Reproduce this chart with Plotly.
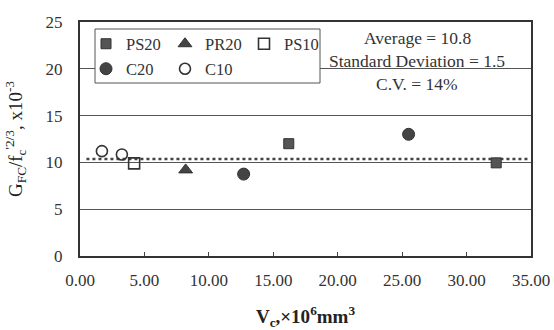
import plotly.graph_objects as go

# ---- data ----
ps20_x = [16.2, 32.3]
ps20_y = [12.0, 9.95]
pr20_x = [8.2]
pr20_y = [9.2]
ps10_x = [4.2]
ps10_y = [9.9]
c20_x = [12.7, 25.5]
c20_y = [8.75, 13.0]
c10_x = [1.7, 3.25]
c10_y = [11.2, 10.85]
avg_x = [0.5, 34.8]
avg_y = [10.35, 10.35]

x_ticks = [0, 5, 10, 15, 20, 25, 30, 35]
x_ticktext = ["0.00", "5.00", "10.00", "15.00", "20.00", "25.00", "30.00", "35.00"]
y_ticks = [0, 5, 10, 15, 20, 25]

stats_lines = ["Average = 10.8", "Standard Deviation = 1.5", "C.V. = 14%"]

FONT = "Liberation Serif"
W, H = 554, 330
ML, MR, MT, MB = 80, 23, 22, 74
PW, PH = W - ML - MR, H - MT - MB

def px(x):
    return (x - ML) / PW

def py(y):
    return 1 - (y - MT) / PH

fig = go.Figure()

# average dotted line
fig.add_trace(go.Scatter(x=avg_x, y=avg_y, mode="lines",
                         line=dict(color="#444", width=2.5, dash="dot"),
                         showlegend=False, hoverinfo="skip"))

fig.add_trace(go.Scatter(x=ps20_x, y=ps20_y, mode="markers", name="PS20", legend="legend",
                         marker=dict(symbol="square", size=10, color="#555",
                                     line=dict(color="#333", width=1))))
fig.add_trace(go.Scatter(x=pr20_x, y=pr20_y, mode="markers", name="PR20", legend="legend",
                         marker=dict(symbol="triangle-up", size=12, color="#444",
                                     line=dict(color="#333", width=1))))
fig.add_trace(go.Scatter(x=ps10_x, y=ps10_y, mode="markers", name="PS10", legend="legend",
                         marker=dict(symbol="square-open", size=11, color="#333",
                                     line=dict(width=1.6))))
fig.add_trace(go.Scatter(x=c20_x, y=c20_y, mode="markers", name="C20", legend="legend2",
                         marker=dict(symbol="circle", size=12, color="#444",
                                     line=dict(color="#333", width=1))))
fig.add_trace(go.Scatter(x=c10_x, y=c10_y, mode="markers", name="C10", legend="legend2",
                         marker=dict(symbol="circle-open", size=11, color="#333",
                                     line=dict(width=1.6))))

# legend box
fig.add_shape(type="rect", xref="paper", yref="paper",
              x0=px(95), x1=px(320), y0=py(83), y1=py(29),
              line=dict(color="#555", width=1), fillcolor="white", layer="above")

for i, (t, yy) in enumerate(zip(stats_lines, [38, 61, 84.5])):
    fig.add_annotation(text=t, xref="paper", yref="paper", x=px(417), y=py(yy),
                       xanchor="center", yanchor="middle", showarrow=False,
                       font=dict(family=FONT, size=17.5, color="#333"))

legend_common = dict(orientation="h", bgcolor="rgba(0,0,0,0)", borderwidth=0,
                     font=dict(family=FONT, size=16.5, color="#333"),
                     entrywidth=34, entrywidthmode="pixels",
                     xanchor="left", yanchor="middle", tracegroupgap=0)

fig.update_layout(
    width=W, height=H,
    margin=dict(l=ML, r=MR, t=MT, b=MB, autoexpand=False),
    paper_bgcolor="white", plot_bgcolor="white",
    font=dict(family=FONT, size=17, color="#333"),
    legend=dict(x=px(86), y=py(44), **legend_common),
    legend2=dict(x=px(86), y=py(69), **legend_common),
    xaxis=dict(range=[0, 35], tickvals=x_ticks, ticktext=x_ticktext,
               ticks="inside", ticklen=4, tickcolor="#444", tickwidth=1,
               showgrid=False, zeroline=False, automargin=False,
               showline=True, linecolor="#333", linewidth=2, mirror=True,
               ticklabelstandoff=8,
               tickfont=dict(family=FONT, size=17, color="#333"),
               title=dict(text="<b>V<sub>c</sub>,×10<sup>6</sup>mm<sup>3</sup></b>",
                          font=dict(family=FONT, size=19, color="#222"), standoff=20)),
    yaxis=dict(range=[0, 25], tickvals=y_ticks,
               ticks="", showgrid=True, gridcolor="#555", gridwidth=1,
               zeroline=False, automargin=False,
               showline=True, linecolor="#333", linewidth=2, mirror=True,
               ticklabelstandoff=12,
               tickfont=dict(family=FONT, size=17, color="#333"),
               title=dict(text="G<sub>FC</sub>/f<sub>c</sub><sup>'2/3</sup>, x10<sup>-3</sup>",
                          font=dict(family=FONT, size=19, color="#222"), standoff=18)),
)

fig.write_html("out.html",
               config={"displayModeBar": False},
               post_script="document.body.style.margin='0px';"
                           "document.documentElement.style.overflow='hidden';")
